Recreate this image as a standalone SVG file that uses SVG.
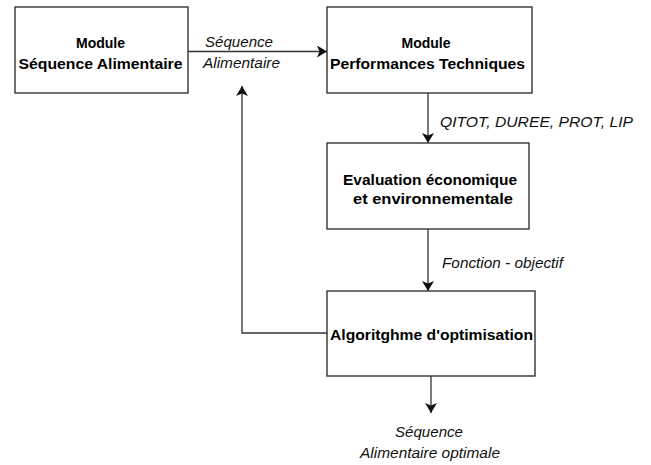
<svg xmlns="http://www.w3.org/2000/svg" width="651" height="465" viewBox="0 0 651 465">
<defs>
<marker id="ah" markerWidth="10" markerHeight="12" refX="10" refY="6" orient="auto" markerUnits="userSpaceOnUse">
<path d="M0,0 L10,6 L0,12 L2.5,6 Z" fill="#111"/>
</marker>
<style>
.box{fill:#fff;stroke:#333;stroke-width:1.4}
.lbl{font-family:"Liberation Sans",Arial,sans-serif;font-weight:bold;font-size:14px;fill:#000;text-anchor:middle}
.it{font-family:"Liberation Sans",Arial,sans-serif;font-style:italic;font-size:14px;fill:#111}
.c{fill:none;stroke:#333;stroke-width:1.3}
</style>
</defs>
<rect width="651" height="465" fill="#fff"/>
<g id="connectors">
<path class="c" d="M188,51.5 H327" marker-end="url(#ah)"/>
<path class="c" d="M428,93 V143" marker-end="url(#ah)"/>
<path class="c" d="M428,229 V291" marker-end="url(#ah)"/>
<path class="c" d="M327,333 H242 V86" marker-end="url(#ah)"/>
<path class="c" d="M431,376 V413" marker-end="url(#ah)"/>
<text class="it" x="239" y="47" text-anchor="middle" textLength="68" lengthAdjust="spacingAndGlyphs">Séquence</text>
<text class="it" x="241.5" y="68" text-anchor="middle" textLength="77" lengthAdjust="spacingAndGlyphs">Alimentaire</text>
<text class="it" x="440" y="127" textLength="193" lengthAdjust="spacingAndGlyphs">QITOT, DUREE, PROT, LIP</text>
<text class="it" x="442" y="268" textLength="121" lengthAdjust="spacingAndGlyphs">Fonction - objectif</text>
<text class="it" x="429" y="437" text-anchor="middle" textLength="68" lengthAdjust="spacingAndGlyphs">Séquence</text>
<text class="it" x="430" y="458" text-anchor="middle" textLength="140" lengthAdjust="spacingAndGlyphs">Alimentaire optimale</text>
</g>
<g id="node1">
<rect class="box" x="15" y="7" width="173" height="86"/>
<text class="lbl" x="100.5" y="47.5">Module</text>
<text class="lbl" x="100.5" y="68.5" textLength="164" lengthAdjust="spacingAndGlyphs">Séquence Alimentaire</text>
</g>
<g id="node2">
<rect class="box" x="327" y="7" width="205" height="86"/>
<text class="lbl" x="426" y="47.5">Module</text>
<text class="lbl" x="427.5" y="68.5" textLength="195" lengthAdjust="spacingAndGlyphs">Performances Techniques</text>
</g>
<g id="node3">
<rect class="box" x="327" y="143" width="202" height="86"/>
<text class="lbl" x="430" y="184.5" textLength="174" lengthAdjust="spacingAndGlyphs">Evaluation économique</text>
<text class="lbl" x="433" y="204" textLength="160" lengthAdjust="spacingAndGlyphs">et environnementale</text>
</g>
<g id="node4">
<rect class="box" x="327" y="291" width="208" height="85"/>
<text class="lbl" x="431.5" y="339.5" textLength="203" lengthAdjust="spacingAndGlyphs">Algoritghme d'optimisation</text>
</g>
</svg>
